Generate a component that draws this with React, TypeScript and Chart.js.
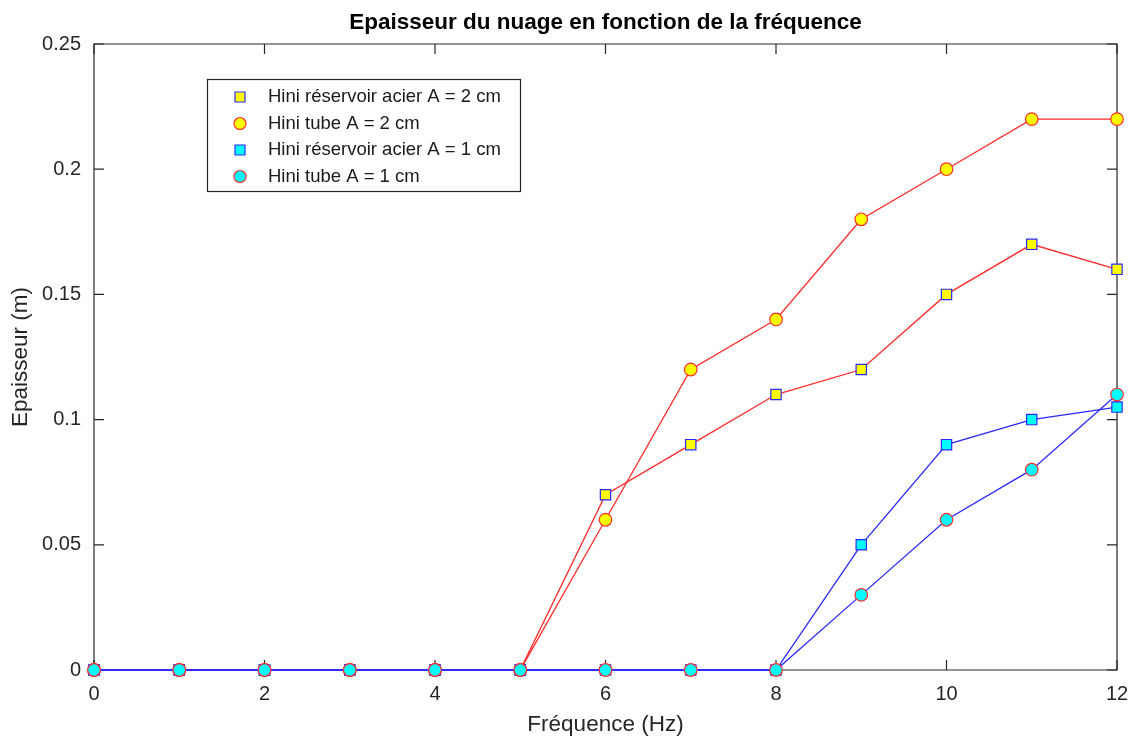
import React, { useEffect, useRef } from "react";
import { Chart, registerables } from "chart.js";

Chart.register(...registerables);

const frequencies = [0, 1, 2, 3, 4, 5, 6, 7, 8, 9, 10, 11, 12];
const reservoirA2 = [0, 0, 0, 0, 0, 0, 0.07, 0.09, 0.11, 0.12, 0.15, 0.17, 0.16];
const tubeA2 = [0, 0, 0, 0, 0, 0, 0.06, 0.12, 0.14, 0.18, 0.2, 0.22, 0.22];
const reservoirA1 = [0, 0, 0, 0, 0, 0, 0, 0, 0, 0.05, 0.09, 0.1, 0.105];
const tubeA1 = [0, 0, 0, 0, 0, 0, 0, 0, 0, 0.03, 0.06, 0.08, 0.11];

const seriesLabels = [
  "Hini réservoir acier A = 2 cm",
  "Hini tube A = 2 cm",
  "Hini réservoir acier A = 1 cm",
  "Hini tube A = 1 cm",
];
const chartTitle = "Epaisseur du nuage en fonction de la fréquence";
const xTitle = "Fréquence (Hz)";
const yTitle = "Epaisseur (m)";

const FONT = "'Liberation Sans', Arial, Helvetica, sans-serif";
const AXIS = "#262626";
const RED = "#ff2a2a";
const BLUE = "#2a2aff";

const toPoints = (ys: number[]) => frequencies.map((x, i) => ({ x, y: ys[i] }));

const frameAndText = {
  id: "frameAndText",
  beforeDatasetsDraw(chart: any) {
    const { ctx, chartArea } = chart;
    const { left, right, top, bottom } = chartArea;
    const xs = chart.scales.x;
    const ys = chart.scales.y;
    const tl = 10;
    ctx.save();
    ctx.strokeStyle = AXIS;
    ctx.lineWidth = 1.2;
    ctx.beginPath();
    ctx.rect(left, top, right - left, bottom - top);
    ctx.stroke();
    ctx.beginPath();
    xs.ticks.forEach((t: any) => {
      const px = xs.getPixelForValue(t.value);
      ctx.moveTo(px, bottom);
      ctx.lineTo(px, bottom - tl);
      ctx.moveTo(px, top);
      ctx.lineTo(px, top + tl);
    });
    ys.ticks.forEach((t: any) => {
      const py = ys.getPixelForValue(t.value);
      ctx.moveTo(left, py);
      ctx.lineTo(left + tl, py);
      ctx.moveTo(right, py);
      ctx.lineTo(right - tl, py);
    });
    ctx.stroke();
    ctx.restore();
  },
  afterDraw(chart: any) {
    const { ctx, chartArea } = chart;
    const { left, right } = chartArea;
    ctx.save();
    // title
    ctx.fillStyle = "#000";
    ctx.font = `bold 22.5px ${FONT}`;
    ctx.textAlign = "center";
    ctx.textBaseline = "middle";
    ctx.fillText(chartTitle, (left + right) / 2, 23);
    // axis titles
    ctx.fillStyle = AXIS;
    ctx.font = `22.5px ${FONT}`;
    ctx.fillText(xTitle, (left + right) / 2, 725);
    ctx.save();
    ctx.translate(20.5, (chartArea.top + chartArea.bottom) / 2);
    ctx.rotate(-Math.PI / 2);
    ctx.fillText(yTitle, 0, 0);
    ctx.restore();

    // legend
    const lx = 207.5, ly = 79.5, lw = 313, lh = 112;
    ctx.fillStyle = "#fff";
    ctx.fillRect(lx, ly, lw, lh);
    ctx.strokeStyle = AXIS;
    ctx.lineWidth = 1.2;
    ctx.strokeRect(lx, ly, lw, lh);
    const rowY = [97, 123.5, 150, 176.5];
    chart.data.datasets.forEach((ds: any, i: number) => {
      const cy = rowY[i];
      const cx = 240;
      ctx.fillStyle = ds.pointBackgroundColor;
      ctx.strokeStyle = ds.pointBorderColor;
      ctx.lineWidth = 1.2;
      ctx.beginPath();
      if (ds.pointStyle === "rect") {
        ctx.rect(cx - 5, cy - 5, 10, 10);
      } else {
        ctx.arc(cx, cy, 6, 0, Math.PI * 2);
      }
      ctx.fill();
      ctx.stroke();
      ctx.fillStyle = "#1a1a1a";
      ctx.font = `18.5px ${FONT}`;
      ctx.textAlign = "left";
      ctx.textBaseline = "middle";
      ctx.fillText(ds.label, 268, cy);
    });
    ctx.restore();
  },
};

export default function App() {
  const ref = useRef<HTMLCanvasElement>(null);
  useEffect(() => {
    if (!ref.current) return;
    const mk = (label: string, ys: number[], line: string, fill: string, edge: string, style: string, order: number) => ({
      label,
      data: toPoints(ys),
      order,
      borderColor: line,
      borderWidth: 1.3,
      backgroundColor: fill,
      pointStyle: style,
      pointBackgroundColor: fill,
      pointBorderColor: edge,
      pointBorderWidth: 1.2,
      pointRadius: style === "rect" ? 7.3 : 6.3,
      tension: 0,
      fill: false,
      clip: false,
    });
    const chart = new Chart(ref.current, {
      type: "line",
      data: {
        datasets: [
          mk(seriesLabels[0], reservoirA2, RED, "#ffff00", BLUE, "rect", 3),
          mk(seriesLabels[1], tubeA2, RED, "#ffff00", RED, "circle", 2),
          mk(seriesLabels[2], reservoirA1, BLUE, "#00ffff", BLUE, "rect", 1),
          mk(seriesLabels[3], tubeA1, BLUE, "#00ffff", RED, "circle", 0),
        ] as any,
      },
      options: {
        animation: false,
        responsive: false,
        maintainAspectRatio: false,
        events: [],
        layout: { padding: { top: 44, right: 16, left: 0, bottom: 0 } },
        plugins: {
          legend: { display: false },
          title: { display: false },
          tooltip: { enabled: false },
        },
        scales: {
          x: {
            type: "linear",
            min: 0,
            max: 12,
            ticks: { stepSize: 2, padding: 12, color: AXIS, font: { family: FONT, size: 20 } },
            grid: { display: false, drawTicks: false, tickLength: 0 },
            border: { display: false },
            afterFit: (s: any) => { s.height = 70; s.paddingLeft = 0; s.paddingRight = 0; },
          },
          y: {
            type: "linear",
            min: 0,
            max: 0.25,
            ticks: {
              stepSize: 0.05,
              padding: 13,
              color: AXIS,
              font: { family: FONT, size: 20 },
              callback: (v: any) => String(Number(Number(v).toFixed(3))),
            },
            grid: { display: false, drawTicks: false, tickLength: 0 },
            border: { display: false },
            afterFit: (s: any) => { s.width = 94; s.paddingTop = 0; s.paddingBottom = 0; },
          },
        },
      } as any,
      plugins: [frameAndText],
    });
    return () => chart.destroy();
  }, []);
  return (
    <div style={{ position: "absolute", left: 0, top: 0, width: 1133, height: 740, background: "#fff" }}>
      <canvas ref={ref} width={1133} height={740} />
    </div>
  );
}
